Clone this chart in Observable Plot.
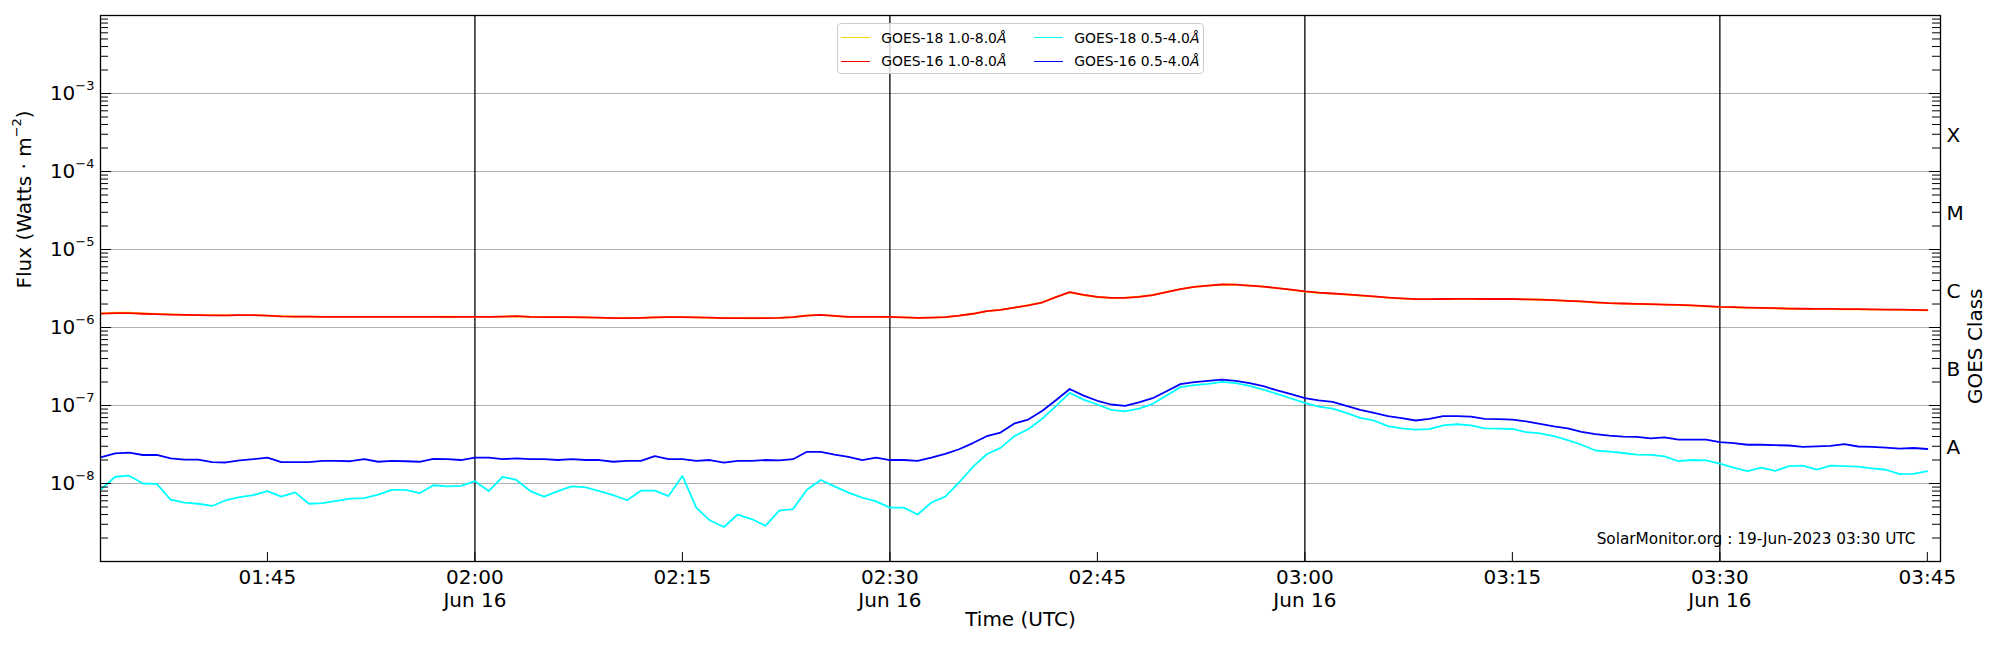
<!DOCTYPE html>
<html><head><meta charset="utf-8">
<script src="https://cdn.jsdelivr.net/npm/d3@7"></script>
<script src="https://cdn.jsdelivr.net/npm/@observablehq/plot@0.6"></script>
<style>
html,body{margin:0;padding:0;background:#fff;}
#fig{position:relative;width:2000px;height:650px;font-family:"DejaVu Sans",sans-serif;}
#legend{position:absolute;left:837px;top:23px;width:367px;height:51px;box-sizing:border-box;border:1px solid #cccccc;border-radius:4px;background:rgba(255,255,255,0.8);font-size:13.9px;color:#000;}
.item{position:absolute;display:flex;align-items:center;height:20px;white-space:nowrap;}
.item .sw{width:29px;height:0;border-top:1.8px solid;margin-right:11px;}
</style></head><body><div id="fig"><div id="legend"></div></div>
<script>
// ---------------- DATA ----------------
const startTime = "2023-06-16T01:33:00Z";   // first sample, 1-minute cadence
const endTime   = "2023-06-16T03:46:00Z";   // exclusive
const xDomain = ["2023-06-16T01:32:56Z", "2023-06-16T03:45:57Z"];
const yDomain = [1e-9, 1e-2];

const seriesNames  = ["GOES-18 1.0-8.0", "GOES-16 1.0-8.0", "GOES-18 0.5-4.0", "GOES-16 0.5-4.0"];
const seriesColors = ["#ffd700", "#ff0000", "#00ffff", "#0000ff"];

const goes18Long = [
 1.52e-6,1.55e-6,1.55e-6,1.52e-6,1.49e-6,1.47e-6,1.45e-6,1.44e-6,1.44e-6,1.43e-6,1.44e-6,1.44e-6,1.42e-6,1.40e-6,1.38e-6,1.38e-6,1.37e-6,1.37e-6,1.37e-6,1.37e-6,1.37e-6,1.37e-6,1.37e-6,1.37e-6,1.37e-6,1.38e-6,1.37e-6,
 1.37e-6,1.37e-6,1.38e-6,1.39e-6,1.37e-6,1.36e-6,1.36e-6,1.35e-6,1.35e-6,1.33e-6,1.32e-6,1.32e-6,1.33e-6,1.35e-6,1.36e-6,1.36e-6,1.35e-6,1.33e-6,1.32e-6,1.32e-6,1.31e-6,1.32e-6,1.33e-6,1.36e-6,1.43e-6,1.45e-6,1.40e-6,1.37e-6,1.37e-6,1.37e-6,1.36e-6,
 1.35e-6,1.33e-6,1.34e-6,1.36e-6,1.42e-6,1.50e-6,1.62e-6,1.68e-6,1.80e-6,1.93e-6,2.10e-6,2.46e-6,2.82e-6,2.61e-6,2.46e-6,2.40e-6,2.41e-6,2.48e-6,2.61e-6,2.86e-6,3.11e-6,3.31e-6,3.45e-6,3.55e-6,3.53e-6,3.44e-6,3.34e-6,3.19e-6,3.04e-6,2.89e-6,
 2.79e-6,2.72e-6,2.65e-6,2.57e-6,2.49e-6,2.41e-6,2.35e-6,2.31e-6,2.31e-6,
 2.32e-6,2.33e-6,2.33e-6,2.32e-6,2.31e-6,2.31e-6,2.29e-6,2.27e-6,2.23e-6,2.19e-6,
 2.15e-6,2.09e-6,2.05e-6,2.02e-6,2.00e-6,1.98e-6,1.96e-6,1.94e-6,1.91e-6,1.87e-6,
 1.83e-6,1.81e-6,1.79e-6,1.77e-6,1.76e-6,1.74e-6,1.73e-6,1.72e-6,1.72e-6,1.71e-6,
 1.71e-6,1.70e-6,1.69e-6,1.68e-6,1.67e-6,1.66e-6
];
const goes16Long = [
 1.51e-6,1.53e-6,1.53e-6,1.50e-6,1.48e-6,1.46e-6,1.45e-6,1.44e-6,1.43e-6,1.43e-6,1.44e-6,1.44e-6,1.42e-6,1.39e-6,1.38e-6,1.38e-6,1.37e-6,1.37e-6,1.37e-6,1.37e-6,1.37e-6,1.37e-6,1.37e-6,1.37e-6,1.37e-6,1.37e-6,1.37e-6,
 1.37e-6,1.37e-6,1.38e-6,1.40e-6,1.37e-6,1.36e-6,1.36e-6,1.36e-6,1.35e-6,1.34e-6,1.32e-6,1.32e-6,1.33e-6,1.35e-6,1.36e-6,1.36e-6,1.35e-6,1.34e-6,1.32e-6,1.32e-6,1.32e-6,1.32e-6,1.33e-6,1.36e-6,1.42e-6,1.45e-6,1.41e-6,1.37e-6,1.37e-6,1.37e-6,1.37e-6,
 1.35e-6,1.33e-6,1.34e-6,1.36e-6,1.42e-6,1.50e-6,1.62e-6,1.68e-6,1.80e-6,1.92e-6,2.09e-6,2.45e-6,2.84e-6,2.62e-6,2.47e-6,2.40e-6,2.40e-6,2.47e-6,2.60e-6,2.85e-6,3.10e-6,3.32e-6,3.45e-6,3.56e-6,3.54e-6,3.45e-6,3.35e-6,3.20e-6,3.05e-6,2.90e-6,
 2.80e-6,2.73e-6,2.66e-6,2.58e-6,2.50e-6,2.42e-6,2.36e-6,2.31e-6,2.31e-6,
 2.32e-6,2.33e-6,2.33e-6,2.32e-6,2.32e-6,2.32e-6,2.30e-6,2.28e-6,2.24e-6,2.20e-6,
 2.16e-6,2.10e-6,2.05e-6,2.03e-6,2.01e-6,1.99e-6,1.97e-6,1.95e-6,1.92e-6,1.88e-6,
 1.84e-6,1.82e-6,1.80e-6,1.78e-6,1.77e-6,1.75e-6,1.74e-6,1.73e-6,1.73e-6,1.72e-6,
 1.72e-6,1.71e-6,1.70e-6,1.69e-6,1.68e-6,1.67e-6
];
const goes18Short = [
 8.5e-9,1.22e-8,1.26e-8,1.00e-8,9.9e-9,6.2e-9,5.7e-9,5.5e-9,5.15e-9,6.1e-9,6.7e-9,7.1e-9,8.0e-9,6.8e-9,7.7e-9,5.5e-9,5.6e-9,6.0e-9,6.4e-9,6.5e-9,7.2e-9,8.3e-9,8.3e-9,7.5e-9,9.5e-9,9.2e-9,9.3e-9,
 1.07e-8,8.0e-9,1.22e-8,1.11e-8,8.0e-9,6.8e-9,8.0e-9,9.2e-9,8.9e-9,8.0e-9,
 7.1e-9,6.1e-9,8.1e-9,8.1e-9,6.9e-9,1.25e-8,4.9e-9,3.35e-9,2.77e-9,4.0e-9,
 3.5e-9,2.87e-9,4.5e-9,4.7e-9,8.3e-9,1.11e-8,9.2e-9,7.65e-9,6.6e-9,5.9e-9,
 4.9e-9,4.9e-9,4.0e-9,5.7e-9,6.8e-9,1.03e-8,1.63e-8,2.37e-8,2.86e-8,
 4.05e-8,4.97e-8,6.75e-8,9.8e-8,1.45e-7,1.19e-7,1.03e-7,8.8e-8,8.4e-8,9.1e-8,1.05e-7,
 1.34e-7,1.72e-7,1.82e-7,1.89e-7,2.01e-7,1.93e-7,1.78e-7,1.60e-7,1.41e-7,1.23e-7,
 1.08e-7,9.7e-8,9.1e-8,8.05e-8,6.94e-8,6.42e-8,5.43e-8,5.1e-8,4.92e-8,4.97e-8,
 5.55e-8,5.75e-8,5.55e-8,5.1e-8,5.05e-8,5.0e-8,4.55e-8,4.4e-8,4.05e-8,3.6e-8,
 3.14e-8,2.65e-8,2.57e-8,2.46e-8,2.35e-8,2.33e-8,2.23e-8,1.93e-8,2.0e-8,1.98e-8,
 1.8e-8,1.6e-8,1.44e-8,1.6e-8,1.45e-8,1.67e-8,1.69e-8,1.51e-8,1.69e-8,1.67e-8,
 1.65e-8,1.56e-8,1.5e-8,1.32e-8,1.33e-8,1.44e-8
];
const goes16Short = [
 2.18e-8,2.43e-8,2.49e-8,2.32e-8,2.32e-8,2.10e-8,2.02e-8,2.02e-8,1.88e-8,1.86e-8,1.98e-8,2.05e-8,2.15e-8,1.88e-8,1.88e-8,1.88e-8,1.95e-8,1.95e-8,1.93e-8,2.05e-8,1.90e-8,1.95e-8,1.93e-8,1.90e-8,2.07e-8,2.05e-8,2.00e-8,
 2.15e-8,2.15e-8,2.05e-8,2.10e-8,2.05e-8,2.05e-8,2.00e-8,2.05e-8,2.00e-8,2.00e-8,
 1.90e-8,1.95e-8,1.95e-8,2.25e-8,2.05e-8,2.05e-8,1.95e-8,2.00e-8,1.85e-8,1.95e-8,
 1.95e-8,2.00e-8,1.98e-8,2.05e-8,2.55e-8,2.55e-8,2.35e-8,2.20e-8,2.00e-8,2.15e-8,
 2.00e-8,2.00e-8,1.95e-8,2.15e-8,2.40e-8,2.75e-8,3.30e-8,4.04e-8,4.50e-8,
 5.88e-8,6.60e-8,8.50e-8,1.17e-7,1.63e-7,1.34e-7,1.15e-7,1.03e-7,9.9e-8,1.10e-7,1.24e-7,
 1.52e-7,1.88e-7,1.99e-7,2.07e-7,2.15e-7,2.07e-7,1.93e-7,1.77e-7,1.56e-7,1.40e-7,
 1.24e-7,1.16e-7,1.11e-7,9.9e-8,8.8e-8,8.05e-8,7.3e-8,6.88e-8,6.42e-8,6.75e-8,
 7.3e-8,7.3e-8,7.2e-8,6.75e-8,6.7e-8,6.6e-8,6.25e-8,5.8e-8,5.4e-8,5.1e-8,
 4.6e-8,4.3e-8,4.1e-8,4.0e-8,3.95e-8,3.8e-8,3.9e-8,3.65e-8,3.65e-8,3.65e-8,
 3.39e-8,3.3e-8,3.14e-8,3.14e-8,3.1e-8,3.07e-8,2.95e-8,3.0e-8,3.03e-8,3.2e-8,
 2.98e-8,2.95e-8,2.88e-8,2.8e-8,2.85e-8,2.77e-8
];

const yTickValues = [1e-8, 1e-7, 1e-6, 1e-5, 1e-4, 1e-3];
const yTickLabels = ["10^{−8}", "10^{−7}", "10^{−6}", "10^{−5}", "10^{−4}", "10^{−3}"];
const decadeStarts = [1e-9, 1e-8, 1e-7, 1e-6, 1e-5, 1e-4, 1e-3];
const minorMultipliers = [2, 3, 4, 5, 6, 7, 8, 9];
const classValues = [3.16e-8, 3.16e-7, 3.16e-6, 3.16e-5, 3.16e-4];
const classLabels = ["A", "B", "C", "M", "X"];
const xTickTimes = ["01:45","02:00","02:15","02:30","02:45","03:00","03:15","03:30","03:45"];
const xTickLabels = ["01:45","02:00\nJun 16","02:15","02:30\nJun 16","02:45","03:00\nJun 16","03:15","03:30\nJun 16","03:45"];
const dayLineTimes = ["02:00","02:30","03:00","03:30"];
const yLabel = "Flux (Watts · m^{−2})";
const y2Label = "GOES Class";
const xLabel = "Time (UTC)";
const stamp = "SolarMonitor.org : 19-Jun-2023 03:30 UTC";

// ---------------- BUILD ----------------
const toDate = hm => new Date(`2023-06-16T${hm}:00Z`);
const times = d3.utcMinute.range(new Date(startTime), new Date(endTime));
const allSeries = [goes18Long, goes16Long, goes18Short, goes16Short];
const rows = allSeries.map((vals, s) => vals.map((v, i) => ({time: times[i], flux: v, series: seriesNames[s]})));
const xTicks = xTickTimes.map(toDate);
const xLabelMap = new Map(xTicks.map((d, i) => [+d, xTickLabels[i]]));
const yLabelMap = new Map(yTickValues.map((d, i) => [d, yTickLabels[i]]));
const classRows = classValues.map((v, i) => ({v, label: classLabels[i]}));
const minorTicks = decadeStarts.flatMap(d => minorMultipliers.map(m => m * d));
const majorTicks = [...decadeStarts, 1e-2];

const W = 2000, H = 650, mL = 100, mR = 60, mT = 15, mB = 89;
const pw = W - mL - mR, ph = H - mT - mB;
const FS = 20;

const plot = Plot.plot({
  width: W, height: H,
  marginLeft: mL, marginRight: mR, marginTop: mT, marginBottom: mB,
  style: {fontFamily: "DejaVu Sans", fontSize: FS + "px", background: "white", color: "black", overflow: "visible"},
  x: {type: "utc", domain: xDomain.map(d => new Date(d)), label: null},
  y: {type: "log", domain: yDomain, label: null},
  marks: [
    Plot.ruleY(yTickValues, {y: d => d, stroke: "#b0b0b0", strokeWidth: 1}),
    Plot.ruleX(dayLineTimes.map(toDate), {x: d => d, stroke: "black", strokeWidth: 1.3}),
    ...rows.map((r, s) => Plot.line(r, {x: "time", y: "flux", stroke: seriesColors[s], strokeWidth: 1.8})),
    // inward ticks, left
    Plot.ruleY(majorTicks, {y: d => d, insetRight: pw - 11, stroke: "black", strokeWidth: 1}),
    Plot.ruleY(minorTicks, {y: d => d, insetRight: pw - 8, stroke: "black", strokeWidth: 1}),
    // inward ticks, right
    Plot.ruleY(majorTicks, {y: d => d, insetLeft: pw - 11, stroke: "black", strokeWidth: 1}),
    Plot.ruleY(minorTicks, {y: d => d, insetLeft: pw - 8, stroke: "black", strokeWidth: 1}),
    // inward ticks, bottom
    Plot.ruleX(xTicks, {x: d => d, insetTop: ph - 9, stroke: "black", strokeWidth: 1}),
    Plot.frame({stroke: "black", strokeWidth: 1.3}),
    Plot.axisY({anchor: "left", ticks: yTickValues, tickSize: 0, tickPadding: 6, tickFormat: d => yLabelMap.get(d), fontSize: FS, label: null}),
    Plot.text(classRows, {y: "v", text: "label", frameAnchor: "right", dx: 6, dy: 3, textAnchor: "start", fontSize: FS}),
    Plot.axisX({anchor: "bottom", ticks: xTicks, tickSize: 0, tickPadding: 6, tickFormat: d => xLabelMap.get(+d), fontSize: FS, lineHeight: 1.15, label: null}),
    Plot.text([xLabel], {text: d => d, frameAnchor: "bottom", dy: 64, fontSize: FS}),
    Plot.text([yLabel], {text: d => d, frameAnchor: "left", dx: -76, rotate: -90, fontSize: FS}),
    Plot.text([y2Label], {text: d => d, frameAnchor: "right", dx: 35, rotate: -90, fontSize: FS}),
    Plot.text([stamp], {text: d => d, frameAnchor: "bottom-right", dx: -25, dy: -18, textAnchor: "end", fontSize: 15.3})
  ]
});

// superscripts like matplotlib mathtext
plot.querySelectorAll("text").forEach(t => {
  const s = t.textContent;
  if (!s.includes("^{") || t.querySelector("tspan")) return;
  t.textContent = "";
  const parts = s.split(/\^\{([^}]*)\}/);
  const NS = "http://www.w3.org/2000/svg";
  let raised = false;
  parts.forEach((p, i) => {
    if (!p) return;
    if (i % 2 === 0) {
      if (raised) {
        const ts = document.createElementNS(NS, "tspan");
        ts.setAttribute("dy", "9.5");
        ts.textContent = p;
        t.appendChild(ts);
        raised = false;
      } else t.appendChild(document.createTextNode(p));
    } else {
      const ts = document.createElementNS(NS, "tspan");
      ts.setAttribute("dy", "-9.5");
      ts.setAttribute("font-size", (FS * 0.65) + "px");
      ts.textContent = p;
      t.appendChild(ts);
      raised = true;
    }
  });
});

const fig = document.getElementById("fig");
fig.insertBefore(plot, fig.firstChild);

// legend (column-major, 2 rows)
const legend = document.getElementById("legend");
const colLeft = [3.3, 196.3], rowTop = [3.6, 27];
seriesNames.forEach((name, i) => {
  const col = Math.floor(i / 2), row = i % 2;
  const it = document.createElement("div");
  it.className = "item";
  it.style.left = colLeft[col] + "px";
  it.style.top = rowTop[row] + "px";
  const sw = document.createElement("span");
  sw.className = "sw";
  sw.style.borderTopColor = seriesColors[i];
  const tx = document.createElement("span");
  tx.innerHTML = name + "<i>Å</i>";
  it.appendChild(sw); it.appendChild(tx);
  legend.appendChild(it);
});
</script></body></html>
